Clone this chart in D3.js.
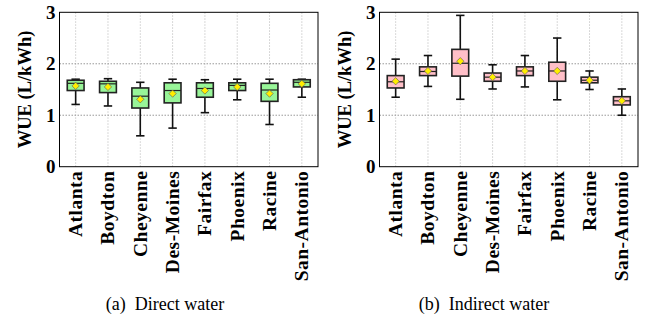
<!DOCTYPE html>
<html>
<head>
<meta charset="utf-8">
<script src="https://cdn.jsdelivr.net/npm/d3@7"></script>
<style>
  body { margin: 0; background: #fff; }
  text { font-family: 'Liberation Serif', 'Times New Roman', 'DejaVu Serif', serif; }
  .tick text { font-weight: bold; fill: #000; }
  .grid line { stroke-dasharray: 1.5,1.5; }
</style>
</head>
<body>
<div id="chart"></div>
<script>
// categories
const cities = ['Atlanta', 'Boydton', 'Cheyenne', 'Des-Moines', 'Fairfax', 'Phoenix', 'Racine', 'San-Antonio'];
const yTicks = [0, 1, 2, 3];

// direct water (box stats)
const directLow    = [1.21, 1.18, 0.60, 0.75, 1.05, 1.30, 0.82, 1.35];
const directQ1     = [1.48, 1.44, 1.14, 1.24, 1.35, 1.48, 1.27, 1.55];
const directMedian = [1.62, 1.61, 1.37, 1.48, 1.52, 1.58, 1.49, 1.64];
const directQ3     = [1.68, 1.66, 1.53, 1.63, 1.63, 1.63, 1.62, 1.69];
const directHigh   = [1.70, 1.71, 1.64, 1.70, 1.69, 1.70, 1.70, 1.70];
const directMean   = [1.57, 1.55, 1.31, 1.42, 1.48, 1.55, 1.42, 1.61];

// indirect water (box stats)
const indirectLow    = [1.35, 1.56, 1.31, 1.51, 1.55, 1.30, 1.50, 1.00];
const indirectQ1     = [1.53, 1.77, 1.76, 1.66, 1.77, 1.66, 1.63, 1.20];
const indirectMedian = [1.65, 1.85, 2.01, 1.74, 1.86, 1.86, 1.68, 1.28];
const indirectQ3     = [1.77, 1.94, 2.28, 1.82, 1.94, 2.03, 1.74, 1.36];
const indirectHigh   = [2.09, 2.16, 2.94, 1.98, 2.16, 2.50, 1.86, 1.51];
const indirectMean   = [1.66, 1.86, 2.05, 1.74, 1.86, 1.86, 1.68, 1.28];

const width = 646, height = 320;
const svg = d3.select('#chart').append('svg')
  .attr('width', width)
  .attr('height', height);

function toRows(low, q1, med, q3, high, mean) {
  return cities.map((c, i) => ({ city: c, low: low[i], q1: q1[i], med: med[i], q3: q3[i], high: high[i], mean: mean[i] }));
}

function drawPanel(left, rows, fill, caption, captionX) {
  const plotW = 258.5, top = 12.3, plotH = 154.4;
  const g = svg.append('g').attr('transform', `translate(${left},${top})`);

  const x = d3.scaleBand().domain(cities).range([0, plotW]);
  const y = d3.scaleLinear().domain([0, 3]).range([plotH, 0]);

  // grid
  g.append('g').attr('class', 'grid')
    .selectAll('line.v').data(cities).enter().append('line')
    .attr('x1', d => x(d) + x.bandwidth() / 2)
    .attr('x2', d => x(d) + x.bandwidth() / 2)
    .attr('y1', 0).attr('y2', plotH)
    .style('stroke', '#ccc');
  g.append('g').attr('class', 'grid')
    .selectAll('line.h').data(yTicks.slice(1, 3)).enter().append('line')
    .attr('x1', 0).attr('x2', plotW)
    .attr('y1', d => y(d)).attr('y2', d => y(d))
    .style('stroke', '#999');

  // axes
  const yaxis = d3.axisLeft(y).tickValues(yTicks).tickSize(0).tickPadding(4).tickFormat(d3.format('d'));
  const ya = g.append('g').call(yaxis);
  ya.attr('font-family', null);
  ya.select('.domain').remove();
  ya.selectAll('text').style('font-size', '19px');

  const xaxis = d3.axisBottom(x).tickSize(0);
  const xa = g.append('g').attr('transform', `translate(0,${plotH})`).call(xaxis);
  xa.attr('font-family', null);
  xa.select('.domain').remove();
  xa.selectAll('text')
    .style('font-size', '19.5px')
    .style('letter-spacing', '0.5px')
    .attr('transform', 'rotate(-90)')
    .attr('text-anchor', 'end')
    .attr('x', -4)
    .attr('y', 0)
    .attr('dy', '0.33em');

  // frame
  g.append('rect')
    .attr('width', plotW).attr('height', plotH)
    .attr('fill', 'none').attr('stroke', '#000').attr('stroke-width', 1);

  // y title
  g.append('text')
    .attr('transform', `translate(-34.5,${plotH / 2}) rotate(-90)`)
    .attr('text-anchor', 'middle')
    .attr('dy', '0.35em')
    .style('font-weight', 'bold')
    .style('font-size', '18.5px')
    .text('WUE (L/kWh)');

  // boxes
  const bw = x.bandwidth() * 0.52;
  const cw = bw * 0.5;
  const boxes = g.selectAll('.box').data(rows).enter().append('g')
    .attr('class', 'box')
    .attr('transform', d => `translate(${x(d.city) + x.bandwidth() / 2},0)`);

  boxes.append('line')
    .attr('x1', 0).attr('x2', 0)
    .attr('y1', d => y(d.low)).attr('y2', d => y(d.q1))
    .attr('stroke', '#111').attr('stroke-width', 1.6);
  boxes.append('line')
    .attr('x1', 0).attr('x2', 0)
    .attr('y1', d => y(d.q3)).attr('y2', d => y(d.high))
    .attr('stroke', '#111').attr('stroke-width', 1.6);
  boxes.append('line')
    .attr('x1', -cw / 2).attr('x2', cw / 2)
    .attr('y1', d => y(d.low)).attr('y2', d => y(d.low))
    .attr('stroke', '#111').attr('stroke-width', 1.6);
  boxes.append('line')
    .attr('x1', -cw / 2).attr('x2', cw / 2)
    .attr('y1', d => y(d.high)).attr('y2', d => y(d.high))
    .attr('stroke', '#111').attr('stroke-width', 1.6);
  boxes.append('rect')
    .attr('x', -bw / 2).attr('width', bw)
    .attr('y', d => y(d.q3))
    .attr('height', d => y(d.q1) - y(d.q3))
    .attr('fill', fill).attr('stroke', '#222').attr('stroke-width', 1.6);
  boxes.append('line')
    .attr('x1', -bw / 2).attr('x2', bw / 2)
    .attr('y1', d => y(d.med)).attr('y2', d => y(d.med))
    .attr('stroke', '#222').attr('stroke-width', 1.2);
  boxes.append('path')
    .attr('d', d3.symbol().type(d3.symbolDiamond2).size(34))
    .attr('transform', d => `translate(0,${y(d.mean)})`)
    .attr('fill', '#ffee00').attr('stroke', '#555').attr('stroke-width', 0.6);

  // caption
  const cap = svg.append('text')
    .attr('x', captionX).attr('y', 310)
    .attr('text-anchor', 'middle')
    .style('font-size', '18px');
  cap.append('tspan').text(caption[0]);
  cap.append('tspan').attr('dx', 9).text(caption[1]);
}

drawPanel(59.5, toRows(directLow, directQ1, directMedian, directQ3, directHigh, directMean),
  '#98f598', ['(a)', 'Direct water'], 165);
drawPanel(379.5, toRows(indirectLow, indirectQ1, indirectMedian, indirectQ3, indirectHigh, indirectMean),
  '#ffbfc8', ['(b)', 'Indirect water'], 484);
</script>
</body>
</html>
